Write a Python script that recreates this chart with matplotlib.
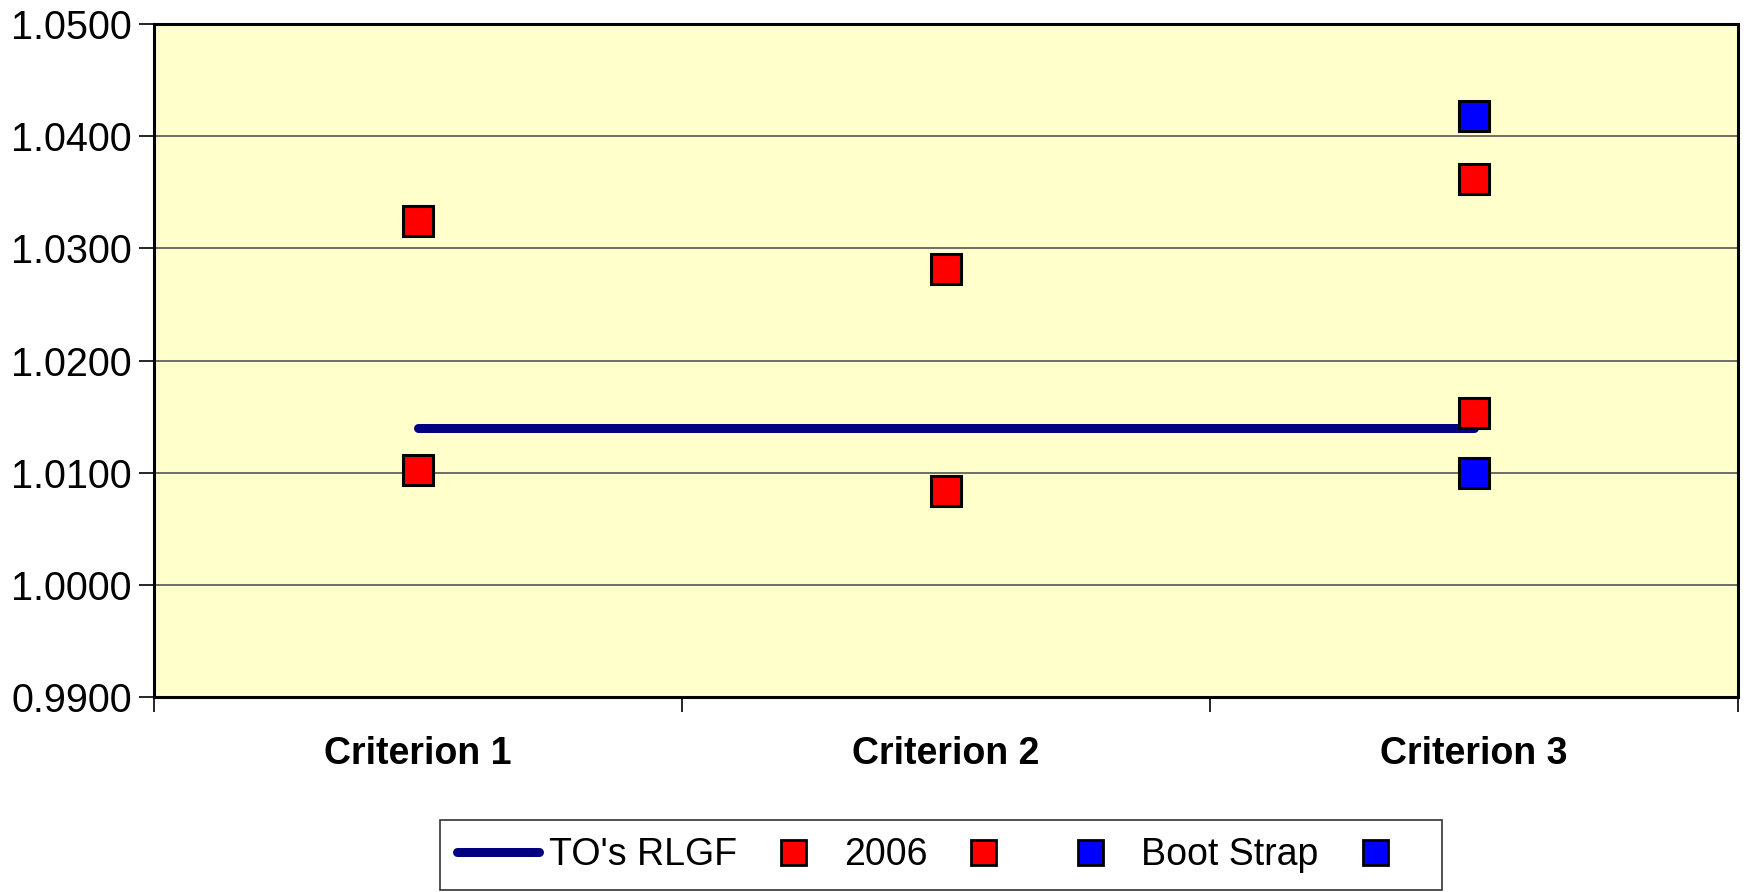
import numpy as np
import matplotlib.pyplot as plt
from matplotlib.lines import Line2D

plt.rcParams['font.family'] = ['Liberation Sans', 'DejaVu Sans']

# Data
criteria = ['Criterion 1', 'Criterion 2', 'Criterion 3']
rlgf = [1.0140, 1.0140, 1.0140]
y2006_high = [1.0324, 1.0282, 1.0362]
y2006_low = [1.0102, 1.0084, 1.0153]
boot_high = [np.nan, np.nan, 1.0418]
boot_low = [np.nan, np.nan, 1.0100]
yticks = [0.99, 1.00, 1.01, 1.02, 1.03, 1.04, 1.05]

x = np.arange(1, len(criteria) + 1)

fig = plt.figure(figsize=(17.44, 8.92), dpi=100)
ax = fig.add_axes([0.0883, 0.2186, 0.9083, 0.7544])
ax.set_facecolor('#FFFFCC')

ax.plot(x, rlgf, color='#000080', lw=6.5, solid_capstyle='round', zorder=3)
mk = dict(marker='s', ms=21, mew=2.2, mec='black', ls='none', zorder=4)
ax.plot(x, y2006_high, mfc='#FF0000', **mk)
ax.plot(x, y2006_low, mfc='#FF0000', **mk)
ax.plot(x, boot_high, mfc='#0000FF', **mk)
ax.plot(x, boot_low, mfc='#0000FF', **mk)

ax.set_xlim(0.5, 3.5)
ax.set_ylim(0.99, 1.05)
ax.set_yticks(yticks)
ax.set_yticklabels(['%.4f' % v for v in yticks], fontsize=28.5)
ax.yaxis.grid(True, color='#555555', lw=1.2)
ax.set_axisbelow(True)

# category labels between tick marks
ax.set_xticks([0.5, 1.5, 2.5, 3.5])
ax.set_xticklabels([])
ax.set_xticks(x, minor=True)
ax.set_xticklabels(criteria, minor=True, fontsize=27, fontweight='bold')
ax.tick_params(axis='x', which='minor', length=0, pad=28)
ax.tick_params(axis='x', which='major', length=11, width=1.2, direction='out')
ax.tick_params(axis='y', length=11, width=1.2, direction='out', pad=5)
for s in ax.spines.values():
    s.set_linewidth(2.2)
    s.set_color('black')

handles = [
    Line2D([], [], color='#000080', lw=6.5, solid_capstyle='round'),
    Line2D([], [], marker='s', ms=18, mew=2, mec='black', mfc='#FF0000', ls='none'),
    Line2D([], [], marker='s', ms=18, mew=2, mec='black', mfc='#FF0000', ls='none'),
    Line2D([], [], marker='s', ms=18, mew=2, mec='black', mfc='#0000FF', ls='none'),
    Line2D([], [], marker='s', ms=18, mew=2, mec='black', mfc='#0000FF', ls='none'),
]
labels = ["TO's RLGF", '2006', '', 'Boot Strap', '']
leg = fig.legend(handles, labels, loc='center', bbox_to_anchor=(0.5396, 0.0415),
                 ncol=5, fontsize=27, frameon=True, fancybox=False,
                 handlelength=2.2, handletextpad=0.25, columnspacing=0.4,
                 borderpad=0.45)
leg.get_frame().set_edgecolor('black')
leg.get_frame().set_linewidth(1.2)

fig.savefig('out.png', dpi=100)
